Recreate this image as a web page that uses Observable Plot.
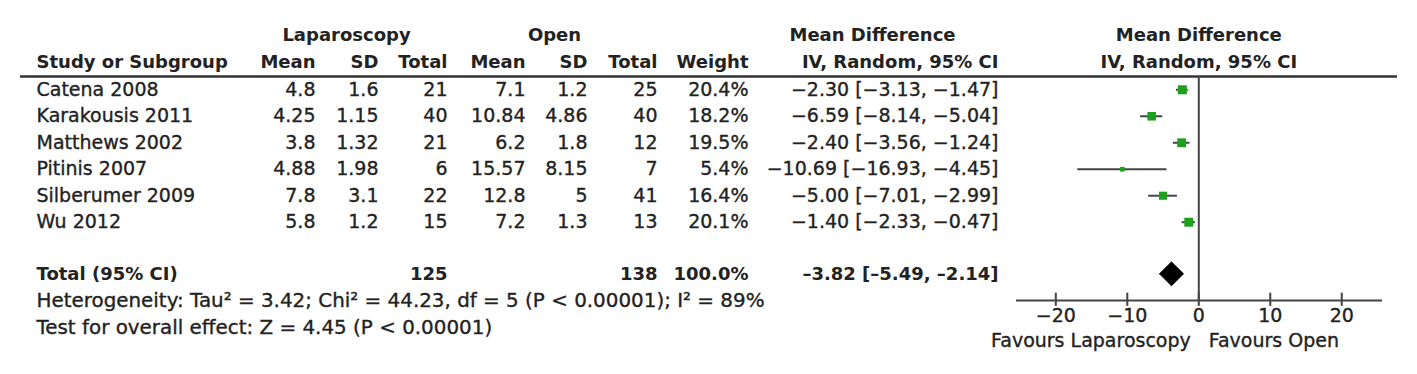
<!DOCTYPE html>
<html><head><meta charset="utf-8">
<script src="https://cdn.jsdelivr.net/npm/d3@7"></script>
<script src="https://cdn.jsdelivr.net/npm/@observablehq/plot@0.6"></script>
<style>
html,body{margin:0;padding:0;background:#fff;}
#chart svg{display:block;}
</style>
</head><body><div id="chart"></div>
<script>
// ---- data ----
const studies  = ["Catena 2008","Karakousis 2011","Matthews 2002","Pitinis 2007","Silberumer 2009","Wu 2012"];
const lapMean  = [4.8, 4.25, 3.8, 4.88, 7.8, 5.8];
const lapSD    = [1.6, 1.15, 1.32, 1.98, 3.1, 1.2];
const lapN     = [21, 40, 21, 6, 22, 15];
const openMean = [7.1, 10.84, 6.2, 15.57, 12.8, 7.2];
const openSD   = [1.2, 4.86, 1.8, 8.15, 5, 1.3];
const openN    = [25, 40, 12, 7, 41, 13];
const weight   = [20.4, 18.2, 19.5, 5.4, 16.4, 20.1];
const md       = [-2.30, -6.59, -2.40, -10.69, -5.00, -1.40];
const mdLo     = [-3.13, -8.14, -3.56, -16.93, -7.01, -2.33];
const mdHi     = [-1.47, -5.04, -1.24, -4.45, -2.99, -0.47];
const totalLabel = "Total (95% CI)";
const totalLapN = 125, totalOpenN = 138, totalWeight = 100.0;
const totalMd = -3.82, totalLo = -5.49, totalHi = -2.14;
const heterogeneity = "Heterogeneity: Tau² = 3.42; Chi² = 44.23, df = 5 (P < 0.00001); I² = 89%";
const overallTest = "Test for overall effect: Z = 4.45 (P < 0.00001)";
const xTicks = [-20, -10, 0, 10, 20];
const groupHeaders = ["Laparoscopy", "Open", "Mean Difference"];
const columnHeaders = ["Study or Subgroup","Mean","SD","Total","Mean","SD","Total","Weight","IV, Random, 95% CI"];
const forestHeaders = ["Mean Difference", "IV, Random, 95% CI"];
const favours = ["Favours Laparoscopy", "Favours Open"];

// ---- helpers ----
const minus = s => s.replace(/-/g, "\u2212");
const dash = s => s.replace(/-/g, "\u2013");
const f2 = v => minus(v.toFixed(2));
const ciText = (m, l, h) => `${f2(m)} [${f2(l)}, ${f2(h)}]`;

const rows = studies.map((s, i) => ({
  i, study: s,
  lapMean: String(lapMean[i]), lapSD: String(lapSD[i]), lapN: String(lapN[i]),
  openMean: String(openMean[i]), openSD: String(openSD[i]), openN: String(openN[i]),
  weight: weight[i], weightText: weight[i].toFixed(1) + "%",
  md: md[i], lo: mdLo[i], hi: mdHi[i], ci: ciText(md[i], mdLo[i], mdHi[i])
}));

// ---- layout (row positions in y-units; columns in px offsets from left margin) ----
const Y = {group: -2.05, head: -1.03, rule: -0.5, total: 6.95, axis: 7.96,
           tickTop: 7.68, tickBot: 8.18, tickLabel: 8.55, favours: 9.47,
           het: 7.96, test: 8.98};
const colKeys = ["study","lapMean","lapSD","lapN","openMean","openSD","openN","weightText","ci"];
const colDx   = [16, 295, 358, 427, 505, 567, 637, 728, 978];
const colAnchor = ["start","end","end","end","end","end","end","end","end"];
const groupDx = [326, 534, 852];

const font = "DejaVu Sans";
const ink = "#222";
const heavy = {stroke: ink, strokeWidth: 0.35};
const base = {frameAnchor: "left", fontFamily: font, fill: ink};
const xDomain = [-25.5, 25.7];

const marks = [];
// header rule, zero line, axis
marks.push(Plot.ruleY([Y.rule], {y: d => d, stroke: "#333", strokeWidth: 2.5}));
marks.push(Plot.ruleX([0], {x: d => d, y1: () => Y.rule, y2: () => Y.axis, stroke: "#444", strokeWidth: 2}));
marks.push(Plot.ruleY([Y.axis], {y: d => d, x1: () => xDomain[0], x2: () => xDomain[1], stroke: "#444", strokeWidth: 2}));
marks.push(Plot.ruleX(xTicks, {x: d => d, y1: () => Y.tickTop, y2: () => Y.tickBot, stroke: "#444", strokeWidth: 2}));
marks.push(Plot.text(xTicks, {x: d => d, y: () => Y.tickLabel, text: d => minus(String(d)), fontFamily: font, fontSize: 19, fill: ink, ...heavy}));
marks.push(Plot.text([favours[0]], {x: () => 0, y: () => Y.favours, text: d => d, dx: -8, textAnchor: "end", fontFamily: font, fontSize: 19, fill: ink, ...heavy}));
marks.push(Plot.text([favours[1]], {x: () => 0, y: () => Y.favours, text: d => d, dx: 10, textAnchor: "start", fontFamily: font, fontSize: 19, fill: ink, ...heavy}));

// forest: CI lines, squares, diamond
marks.push(Plot.ruleY(rows, {y: "i", x1: "lo", x2: "hi", stroke: "#444", strokeWidth: 2}));
marks.push(Plot.dot(rows, {x: "md", y: "i", r: "weight", symbol: "square", fill: "#1ea01e"}));
const dh = 0.45;
const diamond = [
  {x: totalLo, y: Y.total}, {x: totalMd, y: Y.total - dh},
  {x: totalHi, y: Y.total}, {x: totalMd, y: Y.total + dh}, {x: totalLo, y: Y.total}
];
marks.push(Plot.line(diamond, {x: "x", y: "y", fill: "#000", stroke: "#000", strokeWidth: 1}));

// table headers
groupHeaders.forEach((h, k) => marks.push(Plot.text([h], {...base, y: () => Y.group, text: d => d, dx: groupDx[k], textAnchor: "middle", fontSize: 18, fontWeight: "bold"})));
columnHeaders.forEach((h, k) => marks.push(Plot.text([h], {...base, y: () => Y.head, text: d => d, dx: colDx[k], textAnchor: colAnchor[k], fontSize: 18, fontWeight: "bold"})));
forestHeaders.forEach((h, k) => marks.push(Plot.text([h], {x: () => 0, y: () => k === 0 ? Y.group : Y.head, text: d => d, textAnchor: "middle", fontFamily: font, fontSize: 18, fontWeight: "bold", fill: ink})));

// table body
colKeys.forEach((key, k) => marks.push(Plot.text(rows, {...base, y: "i", text: key, dx: colDx[k], textAnchor: colAnchor[k], fontSize: 19, ...heavy})));

// total row
const totalRow = [totalLabel, null, null, String(totalLapN), null, null, String(totalOpenN), totalWeight.toFixed(1) + "%", dash(`${totalMd.toFixed(2)} [${totalLo.toFixed(2)}, ${totalHi.toFixed(2)}]`)];
totalRow.forEach((t, k) => { if (t) marks.push(Plot.text([t], {...base, y: () => Y.total, text: d => d, dx: colDx[k], textAnchor: colAnchor[k], fontSize: 18, fontWeight: "bold"})); });

// footer
marks.push(Plot.text([heterogeneity], {...base, y: () => Y.het, text: d => d, dx: 16, textAnchor: "start", fontSize: 19.9, ...heavy}));
marks.push(Plot.text([overallTest], {...base, y: () => Y.test, text: d => d, dx: 16, textAnchor: "start", fontSize: 19.9, ...heavy}));

const chart = Plot.plot({
  width: 1417, height: 374,
  marginLeft: 20, marginRight: 20, marginTop: 0, marginBottom: 0,
  style: {background: "#fff"},
  x: {domain: xDomain, range: [1016, 1382], axis: null},
  y: {domain: [0, 5], range: [89.3, 221.7], axis: null},
  r: {domain: [0, 20.4], range: [0, 5.1]},
  marks
});
document.getElementById("chart").appendChild(chart);
</script>
</body></html>
